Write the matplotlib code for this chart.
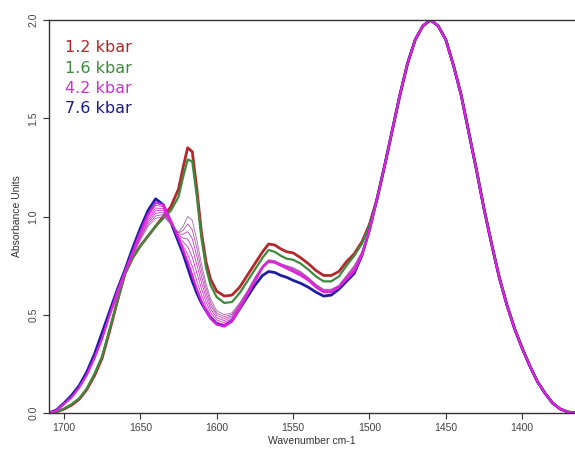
#imported libraries
import numpy as np
import matplotlib
matplotlib.use('Agg')
import matplotlib.pyplot as plt

#wavenumber grid (cm-1), split in three parts
head_wn = [1710, 1705, 1700, 1695, 1690, 1685, 1680, 1675, 1670]
mid_wn = [1665, 1660, 1655, 1650, 1645, 1640, 1635, 1630, 1625, 1622, 1619, 1616,
          1613, 1610, 1607, 1604, 1600, 1595, 1590, 1585, 1580, 1575, 1570, 1566,
          1562, 1558, 1554, 1550, 1545, 1540, 1535, 1530, 1525, 1520, 1515, 1510,
          1505, 1500]
tail_wn = [1495, 1490, 1485, 1480, 1475, 1470, 1465, 1460, 1455, 1450, 1445, 1440,
           1435, 1430, 1425, 1420, 1415, 1410, 1405, 1400, 1395, 1390, 1385, 1380,
           1375, 1370, 1365]

#absorbance values
tail_abs = [1.09, 1.26, 1.44, 1.62, 1.78, 1.90, 1.97, 2.00, 1.97, 1.90, 1.77, 1.62,
            1.43, 1.24, 1.04, 0.86, 0.69, 0.55, 0.43, 0.33, 0.24, 0.16, 0.10, 0.05,
            0.02, 0.005, 0.0]

red_head = [0.0, 0.005, 0.02, 0.04, 0.07, 0.12, 0.19, 0.28, 0.42]
red_mid = [0.57, 0.71, 0.79, 0.85, 0.90, 0.95, 1.00, 1.05, 1.14, 1.25, 1.35, 1.33,
           1.14, 0.92, 0.77, 0.68, 0.62, 0.595, 0.60, 0.64, 0.70, 0.76, 0.82, 0.86,
           0.855, 0.835, 0.82, 0.815, 0.79, 0.76, 0.725, 0.70, 0.70, 0.72, 0.77, 0.81,
           0.87, 0.96]

green_head = [0.0, 0.006, 0.022, 0.045, 0.075, 0.125, 0.2, 0.29, 0.43]
green_mid = [0.57, 0.71, 0.79, 0.85, 0.90, 0.95, 0.99, 1.03, 1.10, 1.20, 1.29, 1.28,
             1.10, 0.89, 0.74, 0.65, 0.59, 0.56, 0.565, 0.61, 0.67, 0.73, 0.79, 0.83,
             0.82, 0.80, 0.785, 0.78, 0.76, 0.73, 0.695, 0.67, 0.67, 0.695, 0.75, 0.80,
             0.86, 0.955]

mag_head = [0.0, 0.012, 0.045, 0.08, 0.13, 0.195, 0.28, 0.38, 0.50]
mag_mid = [0.62, 0.72, 0.82, 0.92, 1.01, 1.07, 1.06, 0.98, 0.89, 0.83, 0.77, 0.70,
           0.63, 0.57, 0.52, 0.48, 0.45, 0.44, 0.465, 0.53, 0.60, 0.67, 0.74, 0.77,
           0.765, 0.75, 0.735, 0.72, 0.70, 0.675, 0.64, 0.615, 0.615, 0.64, 0.68, 0.72,
           0.80, 0.93]

blue_head = [0.0, 0.015, 0.05, 0.09, 0.14, 0.21, 0.30, 0.41, 0.52]
blue_mid = [0.63, 0.73, 0.84, 0.94, 1.03, 1.09, 1.06, 0.97, 0.87, 0.81, 0.74, 0.67,
            0.61, 0.56, 0.52, 0.485, 0.455, 0.445, 0.47, 0.53, 0.59, 0.65, 0.70, 0.72,
            0.715, 0.70, 0.69, 0.675, 0.66, 0.64, 0.615, 0.595, 0.60, 0.63, 0.67, 0.71,
            0.80, 0.93]

#intermediate pressures (thin lines), from 1.6 kbar side towards 4.2 kbar
thin_mids = [
    [0.59, 0.71, 0.80, 0.88, 0.95, 0.99, 1.00, 0.96, 0.92, 0.95, 1.00, 0.98,
     0.88, 0.76, 0.66, 0.58, 0.52, 0.50, 0.51, 0.56, 0.62, 0.69, 0.75, 0.78,
     0.775, 0.76, 0.75, 0.74, 0.72, 0.69, 0.655, 0.63, 0.63, 0.65, 0.70, 0.75,
     0.82, 0.94],
    [0.595, 0.71, 0.803, 0.887, 0.96, 1.003, 1.01, 0.963, 0.915, 0.93, 0.962, 0.933,
     0.838, 0.728, 0.637, 0.563, 0.508, 0.49, 0.502, 0.555, 0.617, 0.687, 0.748, 0.778,
     0.773, 0.758, 0.747, 0.737, 0.717, 0.687, 0.652, 0.627, 0.627, 0.648, 0.697, 0.745,
     0.817, 0.938],
    [0.60, 0.71, 0.807, 0.893, 0.97, 1.017, 1.02, 0.967, 0.91, 0.91, 0.923, 0.887,
     0.797, 0.697, 0.613, 0.547, 0.497, 0.48, 0.495, 0.55, 0.613, 0.683, 0.747, 0.777,
     0.772, 0.757, 0.745, 0.733, 0.713, 0.685, 0.65, 0.625, 0.625, 0.647, 0.693, 0.74,
     0.813, 0.937],
    [0.605, 0.715, 0.81, 0.90, 0.98, 1.03, 1.03, 0.97, 0.905, 0.89, 0.885, 0.84,
     0.755, 0.665, 0.59, 0.53, 0.485, 0.47, 0.488, 0.545, 0.61, 0.68, 0.745, 0.775,
     0.77, 0.755, 0.742, 0.73, 0.71, 0.682, 0.647, 0.622, 0.622, 0.645, 0.69, 0.735,
     0.81, 0.935],
    [0.61, 0.715, 0.813, 0.907, 0.99, 1.043, 1.04, 0.973, 0.90, 0.87, 0.847, 0.793,
     0.713, 0.633, 0.567, 0.513, 0.473, 0.46, 0.48, 0.54, 0.607, 0.677, 0.743, 0.773,
     0.768, 0.753, 0.74, 0.727, 0.707, 0.68, 0.645, 0.62, 0.62, 0.643, 0.687, 0.73,
     0.807, 0.933],
    [0.615, 0.72, 0.817, 0.913, 1.00, 1.057, 1.05, 0.977, 0.895, 0.85, 0.808, 0.747,
     0.672, 0.602, 0.543, 0.497, 0.462, 0.45, 0.472, 0.535, 0.603, 0.673, 0.742, 0.772,
     0.767, 0.752, 0.737, 0.723, 0.703, 0.677, 0.642, 0.617, 0.617, 0.642, 0.683, 0.725,
     0.803, 0.932],
]
thin_colors = ['#a866b0', '#ac4fa6', '#b843b3', '#c836c2', '#d82ed2', '#e628e0']

labels = ['1.2 kbar', '1.6 kbar', '4.2 kbar', '7.6 kbar']
label_colors = ['#b52525', '#3f8a3f', '#cc33cc', '#1c1c85']

wn = np.array(head_wn + mid_wn + tail_wn)

fig = plt.figure(figsize=(5.75, 4.5), dpi=100)
ax = fig.add_axes([49 / 575, 37 / 450, 526 / 575, 393 / 450])

#main spectra
ax.plot(wn, red_head + red_mid + tail_abs, color='#b3282d', lw=2.0)
ax.plot(wn, green_head + green_mid + tail_abs, color='#3d8a3d', lw=1.6)
ax.plot(wn, blue_head + blue_mid + tail_abs, color='#1e1ea0', lw=2.0)
for vals, c in zip(thin_mids, thin_colors):
    ax.plot(wn, mag_head + vals + tail_abs, color=c, lw=0.6)
ax.plot(wn, mag_head + mag_mid + tail_abs, color='#dd22dd', lw=1.6)

#legend as coloured text
for i, (lab, c) in enumerate(zip(labels, label_colors)):
    ax.text(0.030, 0.929 - i * 0.0515, lab, color=c, fontsize=11.5,
            transform=ax.transAxes, ha='left', va='center', family='DejaVu Sans')

ax.set_xlim(1709.8, 1365.4)
ax.set_ylim(0, 2)
ax.set_xticks([1700, 1650, 1600, 1550, 1500, 1450, 1400])
ax.set_yticks([0.0, 0.5, 1.0, 1.5, 2.0])
ax.set_yticklabels(['0.0', '0.5', '1.0', '1.5', '2.0'], rotation=90, va='center')
ax.tick_params(direction='out', length=4.5, width=0.8, labelsize=7.5,
               colors='#333333', labelcolor='#444444', pad=3)
for lab in ax.get_xticklabels() + ax.get_yticklabels():
    lab.set_family('Liberation Sans')
ax.spines['right'].set_visible(False)
for s in ['left', 'bottom', 'top']:
    ax.spines[s].set_color('#333333')
    ax.spines[s].set_linewidth(1.0)

ax.set_xlabel('Wavenumber cm-1', fontsize=7.5, family='Liberation Sans',
              color='#333333', labelpad=2)
ax.set_ylabel('Absorbance Units', fontsize=7.5, family='Liberation Sans',
              color='#333333', labelpad=5)

#saving the figure
plt.savefig('out.png', dpi=100)
